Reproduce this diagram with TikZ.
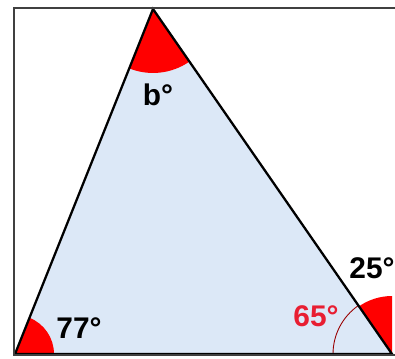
\documentclass[tikz,border=0pt]{standalone}
\usepackage{fontspec}
\setmainfont{Liberation Sans}
\usepackage{xcolor}
\usetikzlibrary{angles}

\definecolor{trifill}{RGB}{220,232,247}
\definecolor{lbred}{RGB}{232,30,50}

\begin{document}
\begin{tikzpicture}[x=0.02cm,y=0.02cm,
 every node/.style={font=\fontsize{17}{19}\selectfont\bfseries,inner sep=0pt},
 frame/.style={draw=black!75,line width=1.6pt},
 side/.style={draw=black,line width=1.3pt,line join=miter},
 sector/.style={fill=red,draw=none},
 thinarc/.style={draw=red!60!black,line width=0.5pt}]
\useasboundingbox (0,0) rectangle (395,358);
\coordinate (A) at (153,349);
\coordinate (B) at (15,4);
\coordinate (C) at (392,4);
\coordinate (U) at (392,350);
% triangle and angles
\fill[trifill] (A) -- (B) -- (C) -- cycle;
\pic[sector,angle radius=1.28cm] {angle=B--A--C};
\pic[sector,angle radius=0.78cm] {angle=C--B--A};
\pic[sector,angle radius=1.16cm] {angle=U--C--A};
\pic[thinarc,angle radius=1.18cm] {angle=A--C--B};
\draw[side] (A) -- (B) -- (C) -- cycle;
% frame
\draw[frame] (395,350) -- (14,350) -- (14,3) -- (395,3);
% labels
\node (lb) at (158,263) {b°};
\node (lbl) at (79,30) {77°};
\node (lbr) at (372,90) {25°};
\node[text=lbred] (lin) at (316,42) {65°};
\end{tikzpicture}
\end{document}
